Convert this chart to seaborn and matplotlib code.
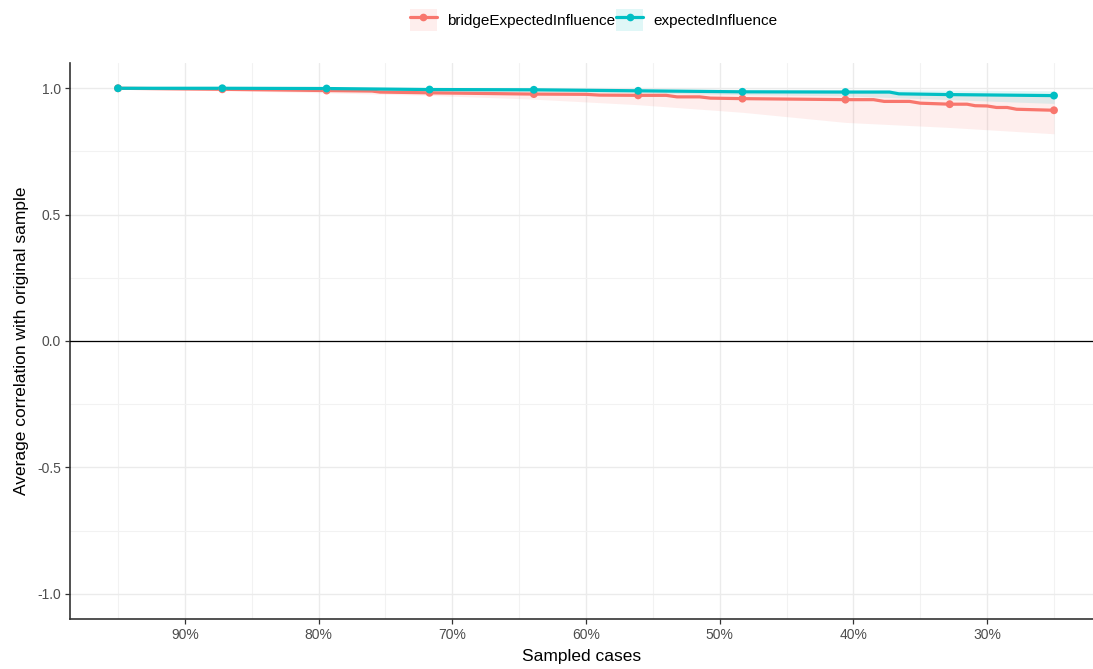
import matplotlib
matplotlib.use("Agg")
import matplotlib.pyplot as plt
import seaborn as sns
import pandas as pd
import numpy as np
from matplotlib.lines import Line2D
from matplotlib.patches import Patch
from matplotlib.ticker import FixedLocator

# ---- data ----
series_names = ["bridgeExpectedInfluence", "expectedInfluence"]
sampled_pct = [95.0, 87.2, 79.4, 71.7, 63.9, 56.1, 48.3, 40.6, 32.8, 25.0]

bridge_points = [1.000, 0.996, 0.991, 0.982, 0.977, 0.972, 0.959, 0.955, 0.937, 0.913]
expected_points = [1.000, 1.000, 0.999, 0.995, 0.994, 0.990, 0.986, 0.985, 0.975, 0.971]

bridge_lower = [0.997, 0.990, 0.982, 0.972, 0.957, 0.935, 0.905, 0.865, 0.845, 0.820]
bridge_upper = [1.000, 1.000, 0.998, 0.995, 0.993, 0.990, 0.988, 0.985, 0.980, 0.975]
expected_lower = [0.999, 0.998, 0.996, 0.990, 0.987, 0.982, 0.975, 0.970, 0.955, 0.940]
expected_upper = [1.000, 1.000, 1.000, 0.999, 0.998, 0.997, 0.996, 0.995, 0.993, 0.990]

# stepped mean lines (vertices)
bridge_line_x = [95, 87.2, 79.4, 76, 75.4, 71.7, 63.9, 60, 59, 56.1, 54, 53.2, 51.5, 50.7,
                 48.3, 40.6, 38.5, 37.7, 35.8, 35, 32.8, 31.5, 30.9, 30, 29.3, 28.5, 27.8, 25]
bridge_line_y = [1.000, 0.996, 0.991, 0.989, 0.985, 0.982, 0.977, 0.976, 0.973, 0.972, 0.972,
                 0.966, 0.966, 0.961, 0.959, 0.955, 0.955, 0.948, 0.948, 0.941, 0.937, 0.937,
                 0.931, 0.930, 0.924, 0.924, 0.917, 0.913]
expected_line_x = [95, 87.2, 79.4, 71.7, 63.9, 56.1, 48.3, 40.6, 37.3, 36.6, 32.8, 25]
expected_line_y = [1.000, 1.000, 0.999, 0.995, 0.994, 0.990, 0.986, 0.985, 0.985, 0.978,
                   0.975, 0.971]

x_ticks = [90, 80, 70, 60, 50, 40, 30]
x_tick_labels = ["90%", "80%", "70%", "60%", "50%", "40%", "30%"]
y_ticks = [-1.0, -0.5, 0.0, 0.5, 1.0]
y_tick_labels = ["-1.0", "-0.5", "0.0", "0.5", "1.0"]

colors = {"bridgeExpectedInfluence": "#F8766D", "expectedInfluence": "#00BFC4"}

points_df = pd.DataFrame({
    "x": sampled_pct * 2,
    "y": bridge_points + expected_points,
    "type": [series_names[0]] * len(sampled_pct) + [series_names[1]] * len(sampled_pct),
})
lines_df = pd.DataFrame({
    "x": bridge_line_x + expected_line_x,
    "y": bridge_line_y + expected_line_y,
    "type": [series_names[0]] * len(bridge_line_x) + [series_names[1]] * len(expected_line_x),
})

# ---- figure ----
sns.set_theme(style="white")
plt.rcParams["font.family"] = ["Liberation Sans", "DejaVu Sans"]

W, H = 1093, 669
fig = plt.figure(figsize=(W / 100, H / 100), dpi=100)
ax = fig.add_axes([70 / W, 1 - 619 / H, (1093 - 70) / W, (619 - 63) / H])

# ribbons
ax.fill_between(sampled_pct, bridge_lower, bridge_upper, color=colors[series_names[0]],
                alpha=0.12, linewidth=0, zorder=2)
ax.fill_between(sampled_pct, expected_lower, expected_upper, color=colors[series_names[1]],
                alpha=0.12, linewidth=0, zorder=2)

ax.axhline(0, color="black", linewidth=0.9, zorder=3)

sns.lineplot(data=lines_df, x="x", y="y", hue="type", palette=colors, sort=False,
             estimator=None, linewidth=2.3, legend=False, ax=ax, zorder=4)
sns.scatterplot(data=points_df, x="x", y="y", hue="type", palette=colors, s=32,
                linewidth=0, legend=False, ax=ax, zorder=5)

# axes scales
px_per_pct = (1054 - 118) / 70.0
x_left = 95 + (118 - 70) / px_per_pct
x_right = 95 - (1093 - 118) / px_per_pct
ax.set_xlim(x_left, x_right)
ax.set_ylim(-1.1, 1.1)

ax.xaxis.set_major_locator(FixedLocator(x_ticks))
ax.set_xticklabels(x_tick_labels)
ax.xaxis.set_minor_locator(FixedLocator([95, 85, 75, 65, 55, 45, 35, 25]))
ax.yaxis.set_major_locator(FixedLocator(y_ticks))
ax.set_yticklabels(y_tick_labels)
ax.yaxis.set_minor_locator(FixedLocator([-0.75, -0.25, 0.25, 0.75]))

ax.grid(which="major", color="#EBEBEB", linewidth=1.0, zorder=0)
ax.grid(which="minor", color="#F2F2F2", linewidth=0.8, zorder=0)
ax.set_axisbelow(True)

for s in ["top", "right"]:
    ax.spines[s].set_visible(False)
for s in ["left", "bottom"]:
    ax.spines[s].set_color("#333333")
    ax.spines[s].set_linewidth(1.2)

ax.tick_params(axis="both", which="major", length=3.5, width=0.9, color="#333333",
               labelsize=10, labelcolor="#4D4D4D", pad=3, left=True, bottom=True)
ax.tick_params(axis="both", which="minor", length=0)

ax.set_xlabel("Sampled cases", fontsize=12.5, color="black", labelpad=5)
ax.set_ylabel("Average correlation with original sample", fontsize=12.5, color="black",
              labelpad=6)

# legend at top
handles = []
for name in series_names:
    patch = Patch(facecolor=colors[name], alpha=0.12, edgecolor="none")
    line = Line2D([], [], color=colors[name], linewidth=2.3, marker="o", markersize=4.5)
    handles.append((patch, line))
leg = fig.legend(handles, series_names, loc="center", bbox_to_anchor=(0.543, 1 - 20 / H),
                 ncol=2, frameon=False, fontsize=11, handlelength=1.75, handleheight=1.75,
                 handletextpad=0.65, columnspacing=0.1, borderaxespad=0)
for t in leg.get_texts():
    t.set_color("black")

fig.savefig("out.png", dpi=100)
